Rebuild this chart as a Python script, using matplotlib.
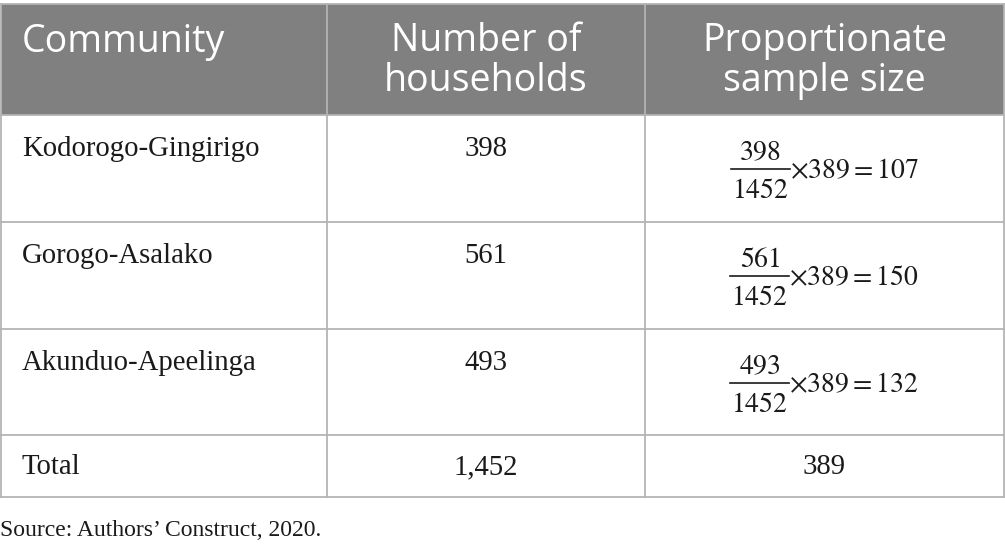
import matplotlib.pyplot as plt
from matplotlib.patches import Rectangle

# table content
headers = ["Community", "Number of\nhouseholds", "Proportionate\nsample size"]
communities = ["Kodorogo-Gingirigo", "Gorogo-Asalako", "Akunduo-Apeelinga"]
households = [398, 561, 493]
samples = [107, 150, 132]
total_households = 1452
total_sample = 389
source = "Source: Authors\u2019 Construct, 2020."

plt.rcParams['mathtext.fontset'] = 'stix'

W, H = 1005, 549
fig = plt.figure(figsize=(W / 100, H / 100), dpi=100)
ax = fig.add_axes([0, 0, 1, 1])
ax.set_xlim(0, W)
ax.set_ylim(H, 0)
ax.axis('off')
renderer = fig.canvas.get_renderer()

col_x = [1, 327, 645, 1004]
row_y = [4, 115, 222, 329, 435, 497]
line_col = '#b4b4b4'
head_bg = '#808080'
ink = '#1a1a1a'

# header band
ax.add_patch(Rectangle((col_x[0], row_y[0]), col_x[-1] - col_x[0], row_y[1] - row_y[0],
                       facecolor=head_bg, edgecolor='none', zorder=0))

for y in row_y:
    ax.plot([col_x[0], col_x[-1]], [y, y], color=line_col, lw=1.3, zorder=1)
for x in col_x:
    ax.plot([x, x], [row_y[0], row_y[-1]], color=line_col, lw=1.3, zorder=1)

# header text
hfont = dict(family='Open Sans', fontsize=27, color='white', linespacing=1.08)
ax.text(22, 42, headers[0], ha='left', va='center', **hfont)
ax.text((col_x[1] + col_x[2]) / 2, 61, headers[1], ha='center', va='center', **hfont)
ax.text((col_x[2] + col_x[3]) / 2, 61, headers[2], ha='center', va='center', **hfont)

bfont = dict(family='Liberation Serif', fontsize=20.7, color=ink)
mfont = dict(fontsize=20, color=ink)


def width(t):
    return t.get_window_extent(renderer).width


mid3 = (col_x[2] + col_x[3]) / 2
for i, name in enumerate(communities):
    top = row_y[i + 1]
    ax.text(22, top + 34, name, ha='left', va='center', **bfont)
    ax.text((col_x[1] + col_x[2]) / 2, top + 34, str(households[i]), ha='center', va='center', **bfont)

    # fraction households / total x total sample = sample
    num = ax.text(0, top + 37, r'$%d$' % households[i], ha='center', va='center', **mfont)
    den = ax.text(0, top + 75, r'$%d$' % total_households, ha='center', va='center', **mfont)
    rest = ax.text(0, top + 55, r'$\times %d = %d$' % (total_sample, samples[i]),
                   ha='left', va='center', **mfont)
    fw = width(den) + 2
    full = fw + width(rest)
    x0 = mid3 - full / 2
    num.set_x(x0 + fw / 2)
    den.set_x(x0 + fw / 2)
    rest.set_x(x0 + fw)
    ax.plot([x0, x0 + fw], [top + 54, top + 54], color=ink, lw=1.2)

top = row_y[4]
ax.text(22, top + 32, "Total", ha='left', va='center', **bfont)
ax.text((col_x[1] + col_x[2]) / 2, top + 32, f"{total_households:,}", ha='center', va='center', **bfont)
ax.text(mid3, top + 32, str(total_sample), ha='center', va='center', **bfont)

ax.text(0, 530, source, ha='left', va='center', family='Liberation Serif', fontsize=17, color=ink)

fig.savefig('out.png', dpi=100, facecolor='white')
